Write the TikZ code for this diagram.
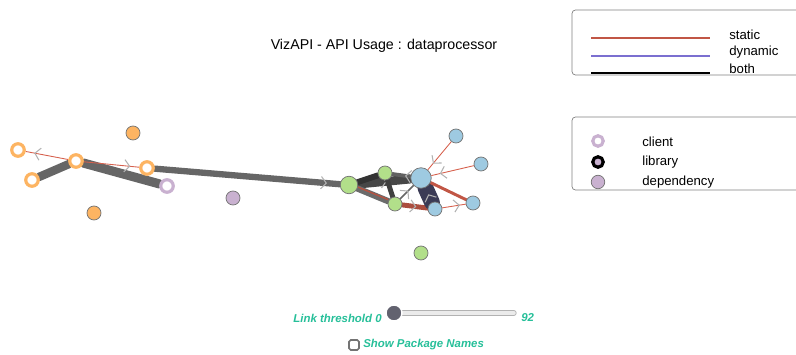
\documentclass[tikz,border=0pt]{standalone}
\usepackage{fontspec}
\setmainfont{Liberation Sans}
\usetikzlibrary{arrows.meta,backgrounds,decorations.markings}

\definecolor{ringorange}{HTML}{FDB462}
\definecolor{depblue}{HTML}{9ECAE1}
\definecolor{depgreen}{HTML}{B2DF8A}
\definecolor{deppurple}{HTML}{C9B1D0}
\definecolor{staticred}{HTML}{D6604D}
\definecolor{dynpurple}{HTML}{7B6FD0}
\definecolor{uigreen}{HTML}{26BF99}
\definecolor{linknavy}{HTML}{3B3B55}
\definecolor{knobgray}{HTML}{62626F}

\begin{document}
\begin{tikzpicture}[x=0.02cm,y=-0.02cm]
    \tikzset{chev/.style={postaction={decorate,decoration={markings,mark=at position #1 with {\arrow[black!30]{Straight Barb[length=3pt,width=7pt,line width=0.6pt]}}}}}}
    \tikzstyle{ring} = [circle,draw=ringorange,fill=white,line width=1.8pt,minimum size=0.25cm,inner sep=0pt]
    \tikzstyle{dep}  = [circle,draw=black!55,fill=#1,thin,minimum size=0.28cm,inner sep=0pt]
    \tikzstyle{edge} = [draw=black!60,line cap=round]
    \tikzstyle{dedge} = [draw=staticred,line width=0.5pt]
    \tikzstyle{box}  = [draw=black!50,rounded corners=2pt,thin]
    \tikzstyle{lbl}  = [anchor=west,font=\fontsize{7.5}{8}\selectfont,inner sep=0pt]
    \tikzstyle{ui}   = [font=\fontsize{6.5}{7}\selectfont\bfseries\itshape,text=uigreen,inner sep=0pt]

    \clip (0,0) rectangle (796,355);

    % title
    \node[font=\fontsize{8.1}{10}\selectfont] (title) at (384,46) {VizAPI - API Usage : dataprocessor};

    % client package
    \node[ring] (o1) at (18,150) {};
    \node[ring] (o2) at (76,161) {};
    \node[ring] (o3) at (32,180) {};
    \node[ring] (o4) at (147,168) {};
    \node[ring,draw=deppurple] (p1) at (167,186) {};
    \node[dep=ringorange] (o5) at (133,133) {};
    \node[dep=ringorange] (o6) at (94,213) {};
    \node[dep=deppurple] (p2) at (233,198) {};

    % library packages
    \node[dep=depgreen,minimum size=0.35cm] (g1) at (349,185) {};
    \node[dep=depgreen] (g2) at (385,173) {};
    \node[dep=depgreen] (g3) at (395,204) {};
    \node[dep=depgreen] (g4) at (421,253) {};
    \node[dep=depblue,minimum size=0.41cm] (b1) at (421,178) {};
    \node[dep=depblue] (b2) at (435,209) {};
    \node[dep=depblue] (b3) at (456,136) {};
    \node[dep=depblue] (b4) at (481,164) {};
    \node[dep=depblue] (b5) at (473,203) {};

    \begin{pgfonlayer}{background}
      \draw[edge,line width=4.8pt] (o3)--(o2);
      \draw[edge,line width=5.2pt] (o2)--(p1);
      \draw[edge,line width=3.6pt,chev=0.93] (o4)--(g1);
      \draw[dedge,chev=0.8] (o2)--(o1);
      \draw[dedge,chev=0.84] (o2)--(o4);
      \draw[edge,draw=black!72,line width=5pt,chev=0.55] (g1)--(b1);
      \draw[edge,draw=black!80,line width=3.4pt] (g1)--(g2);
      \draw[edge,draw=black!75,line width=2.8pt] (g2)--(g3);
      \draw[edge,draw=black!58,line width=3.6pt] (g1)--(g3);
      \draw[dedge,draw=staticred!85!black,line width=0.8pt,transform canvas={yshift=0.9pt}] (g1)--(g3);
      \draw[edge,draw=black!62,line width=2.2pt,chev=0.3] (b1)--(g2);
      \draw[edge,draw=staticred!80!black,line width=2.8pt,chev=0.55] (g3)--(b2);
      \draw[edge,draw=linknavy,line width=9pt,chev=0.55] (b2)--(b1);
      \draw[edge,draw=staticred!90!black,line width=1.7pt] (b1)--(b5);
      \draw[edge,draw=black!60,line width=0.9pt,chev=0.62] (g3)--(b1);
      \draw[dedge,chev=0.75] (b2)--(b5);
      \draw[dedge,chev=0.78] (b3)--(b1);
      \draw[dedge,chev=0.8] (b4)--(b1);
    \end{pgfonlayer}

    % legend: link types
    \draw[box] (572,10) rectangle (810,75);
    \coordinate (ls1) at (591,38); \coordinate (le1) at (710,38);
    \coordinate (ls2) at (591,56); \coordinate (le2) at (710,56);
    \coordinate (ls3) at (591,73); \coordinate (le3) at (710,73);
    \draw[staticred!90!black,line width=1.1pt] (ls1)--(le1);
    \draw[dynpurple,line width=1.1pt] (ls2)--(le2);
    \draw[black,line width=1.6pt] (ls3)--(le3);
    \node[lbl] (tstatic) at (729,35) {static};
    \node[lbl] (tdynamic) at (729,52) {dynamic};
    \node[lbl] (tboth) at (729,69) {both};

    % legend: package types
    \draw[box] (572,117) rectangle (810,190);
    \node[ring,draw=deppurple,minimum size=0.21cm] (kclient) at (598,141) {};
    \node[circle,draw=black,fill=deppurple,line width=1.8pt,minimum size=0.21cm,inner sep=0pt] (klib) at (598,162) {};
    \node[dep=deppurple,minimum size=0.27cm] (kdep) at (598,182) {};
    \node[lbl] (tclient) at (642,142) {client};
    \node[lbl] (tlib) at (642,162) {library};
    \node[lbl] (tdep) at (642,182) {dependency};

    % slider
    \node[ui,anchor=east] (thr) at (382,318) {Link threshold 0};
    \node[ui,anchor=west] (thrmax) at (521,318) {92};
    \draw[black!30,line width=3pt,line cap=round] (396,313)--(514,313);
    \draw[black!8,line width=2pt,line cap=round] (396,313)--(514,313);
    \node[circle,fill=knobgray,draw=white,line width=0.8pt,minimum size=0.32cm,inner sep=0pt] (knob) at (394,313) {};

    % checkbox
    \node[draw=black!55,line width=0.9pt,rounded corners=1pt,minimum size=0.2cm,inner sep=0pt] (chk) at (354,345) {};
    \node[ui,anchor=west] (tchk) at (363,345) {Show Package Names};
\end{tikzpicture}
\end{document}
